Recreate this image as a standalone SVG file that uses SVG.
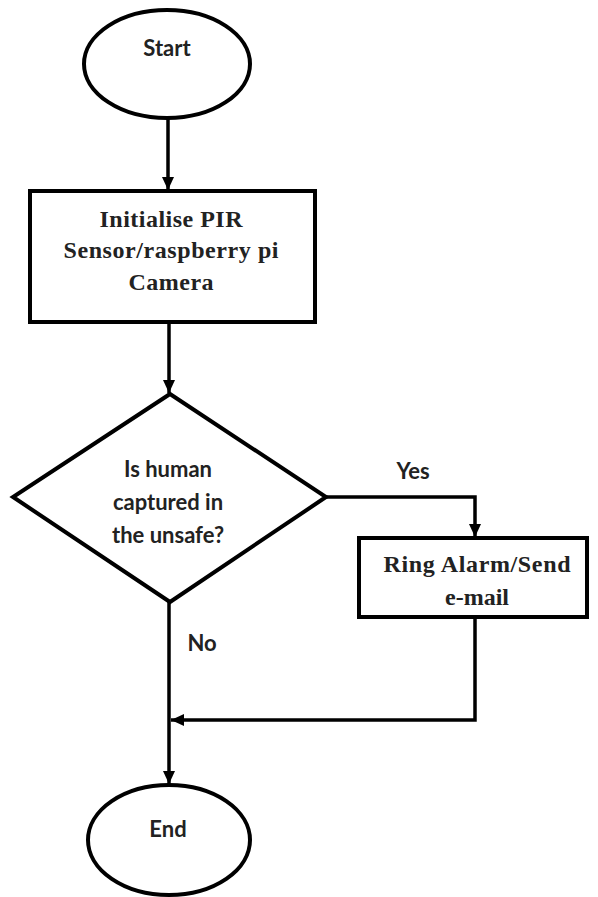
<svg xmlns="http://www.w3.org/2000/svg" width="598" height="897" viewBox="0 0 598 897">
<style>
.shape{fill:#fff;stroke:#000;stroke-width:4}
.conn{fill:none;stroke:#000;stroke-width:3.5}
.sans{font-family:Lato,"Open Sans","Liberation Sans",sans-serif;font-weight:bold;font-size:22px;fill:#222;text-anchor:middle}
.serif{font-family:"Liberation Serif","Times New Roman",serif;font-weight:bold;font-size:24px;fill:#222;text-anchor:middle}
</style>
<defs>
<marker id="arr" markerUnits="userSpaceOnUse" markerWidth="14" markerHeight="12" refX="13" refY="6" orient="auto">
<path d="M0,0 L13,6 L0,12 Z" fill="#000"/>
</marker>
</defs>
<rect width="598" height="897" fill="#fff"/>
<g id="connectors">
<line class="conn" x1="168" y1="118" x2="168" y2="190" marker-end="url(#arr)"/>
<line class="conn" x1="169" y1="323" x2="169" y2="393" marker-end="url(#arr)"/>
<polyline class="conn" points="326,497 475,497 475,537" marker-end="url(#arr)"/>
<line class="conn" x1="169" y1="602" x2="169" y2="784" marker-end="url(#arr)"/>
<polyline class="conn" points="475,617 475,720 171,720" marker-end="url(#arr)"/>
<text class="sans" x="413" y="479">Yes</text>
<text class="sans" x="202" y="651">No</text>
</g>
<g id="start">
<ellipse class="shape" cx="167" cy="64" rx="83" ry="54"/>
<text class="sans" x="167" y="56">Start</text>
</g>
<g id="init">
<rect class="shape" x="30" y="191" width="285" height="131"/>
<text class="serif" x="171" y="227" textLength="143">Initialise PIR</text>
<text class="serif" x="171" y="258" textLength="215">Sensor/raspberry pi</text>
<text class="serif" x="171" y="290" textLength="85">Camera</text>
</g>
<g id="decision">
<polygon class="shape" points="170,394 326,497 170,602 13,497"/>
<text class="sans" x="168" y="477">Is human</text>
<text class="sans" x="168" y="510">captured in</text>
<text class="sans" x="168" y="543">the unsafe?</text>
</g>
<g id="alarm">
<rect class="shape" x="359" y="538" width="228" height="79"/>
<text class="serif" x="477" y="572" textLength="187">Ring Alarm/Send</text>
<text class="serif" x="477" y="605">e-mail</text>
</g>
<g id="end">
<ellipse class="shape" cx="169" cy="840" rx="81" ry="55"/>
<text class="sans" x="168" y="837">End</text>
</g>
</svg>
